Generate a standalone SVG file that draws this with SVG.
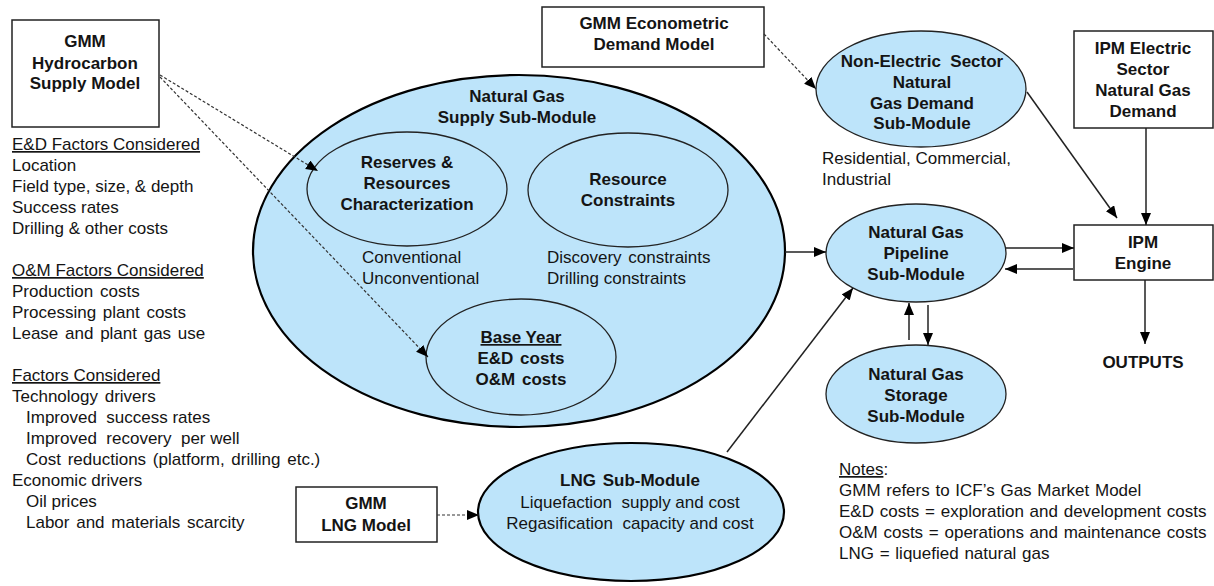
<svg xmlns="http://www.w3.org/2000/svg" width="1214" height="586" viewBox="0 0 1214 586">
<style>
text{font-family:"Liberation Sans",Arial,sans-serif;font-size:17px;fill:#141414}
.b{font-weight:bold}
.c{text-anchor:middle}
.u{text-decoration:underline}
.w{word-spacing:2px}
.n{word-spacing:1px}
.box{fill:#fff;stroke:#222;stroke-width:1.5}
.ell{fill:#bde4fa;stroke:#222;stroke-width:1.3}
.big{fill:#bde4fa;stroke:#000;stroke-width:2.2}
.in{fill:none;stroke:#222;stroke-width:1.3}
.ln{fill:none;stroke:#222;stroke-width:1.5}
.ds{fill:none;stroke:#333;stroke-width:1.2;stroke-dasharray:3 2}
</style>
<defs>
<marker id="ah" markerUnits="userSpaceOnUse" markerWidth="13" markerHeight="11" refX="12" refY="5" orient="auto">
<path d="M0,0 L12,5 L0,10 z" fill="#000"/>
</marker>
</defs>
<rect width="1214" height="586" fill="#fff"/>

<g id="hydrocarbon-model">
<rect class="box" x="12" y="20" width="147" height="107"/>
<text class="b c" x="85" y="47">GMM</text>
<text class="b c" x="85" y="69">Hydrocarbon</text>
<text class="b c" x="85" y="89">Supply Model</text>
</g>

<g id="factors-text">
<text class="u" x="12" y="150">E&amp;D Factors Considered</text>
<text x="12" y="171">Location</text>
<text x="12" y="192">Field type, size, &amp; depth</text>
<text x="12" y="213">Success rates</text>
<text x="12" y="234">Drilling &amp; other costs</text>
<text class="u" x="12" y="276">O&amp;M Factors Considered</text>
<text class="w" x="12" y="297">Production costs</text>
<text class="w" x="12" y="318">Processing plant costs</text>
<text class="w" x="12" y="339">Lease and plant gas use</text>
<text class="u" x="12" y="381">Factors Considered</text>
<text class="w" x="12" y="402">Technology drivers</text>
<text x="26" y="423">Improved&#160; success rates</text>
<text x="26" y="444">Improved&#160; recovery&#160; per well</text>
<text class="w" x="26" y="465">Cost reductions (platform, drilling etc.)</text>
<text x="12" y="486">Economic drivers</text>
<text x="26" y="507">Oil prices</text>
<text class="w" x="26" y="528">Labor and materials scarcity</text>
</g>

<g id="supply-submodule">
<ellipse class="big" cx="519" cy="251" rx="266" ry="176"/>
<text class="b c" x="517" y="102">Natural Gas</text>
<text class="b c" x="517" y="123">Supply Sub-Module</text>
</g>

<g id="reserves">
<ellipse class="in" cx="407" cy="189" rx="100" ry="57"/>
<text class="b c" x="407" y="168">Reserves &amp;</text>
<text class="b c" x="407" y="189">Resources</text>
<text class="b c" x="407" y="210">Characterization</text>
<text x="362" y="263">Conventional</text>
<text x="362" y="284">Unconventional</text>
</g>

<g id="resource-constraints">
<ellipse class="in" cx="628" cy="190" rx="100" ry="57"/>
<text class="b c" x="628" y="185">Resource</text>
<text class="b c" x="628" y="206">Constraints</text>
<text class="w" x="547" y="263">Discovery constraints</text>
<text x="547" y="284">Drilling constraints</text>
</g>

<g id="base-year">
<ellipse class="in" cx="521" cy="357" rx="95" ry="58"/>
<text class="b c u" x="521" y="343">Base Year</text>
<text class="b c w" x="521" y="364">E&amp;D costs</text>
<text class="b c w" x="521" y="385">O&amp;M costs</text>
</g>

<g id="econometric-model">
<rect class="box" x="542" y="7" width="222" height="60"/>
<text class="b c" x="654" y="29">GMM Econometric</text>
<text class="b c" x="654" y="50">Demand Model</text>
</g>

<g id="non-electric">
<ellipse class="ell" cx="921" cy="89" rx="105" ry="58"/>
<text class="b c" x="922" y="67">Non-Electric&#160; Sector</text>
<text class="b c" x="922" y="88">Natural</text>
<text class="b c" x="922" y="109">Gas Demand</text>
<text class="b c" x="922" y="129">Sub-Module</text>
<text x="822" y="164">Residential, Commercial,</text>
<text x="822" y="185">Industrial</text>
</g>

<g id="ipm-electric">
<rect class="box" x="1074" y="31" width="139" height="97"/>
<text class="b c" x="1143" y="54">IPM Electric</text>
<text class="b c" x="1143" y="75">Sector</text>
<text class="b c" x="1143" y="96">Natural Gas</text>
<text class="b c" x="1143" y="117">Demand</text>
</g>

<g id="pipeline">
<ellipse class="ell" cx="916" cy="253" rx="90" ry="49"/>
<text class="b c" x="916" y="238">Natural Gas</text>
<text class="b c" x="916" y="259">Pipeline</text>
<text class="b c" x="916" y="280">Sub-Module</text>
</g>

<g id="ipm-engine">
<rect class="box" x="1074" y="225" width="139" height="55"/>
<text class="b c" x="1143" y="248">IPM</text>
<text class="b c" x="1143" y="269">Engine</text>
</g>

<g id="outputs">
<text class="b c" x="1143" y="368">OUTPUTS</text>
</g>

<g id="storage">
<ellipse class="ell" cx="916" cy="394" rx="90" ry="49"/>
<text class="b c" x="916" y="380">Natural Gas</text>
<text class="b c" x="916" y="401">Storage</text>
<text class="b c" x="916" y="422">Sub-Module</text>
</g>

<g id="lng-model">
<rect class="box" x="296" y="487" width="141" height="55"/>
<text class="b c" x="366" y="509">GMM</text>
<text class="b c" x="366" y="531">LNG Model</text>
</g>

<g id="lng-submodule">
<ellipse class="big" cx="631" cy="512" rx="153" ry="69"/>
<text class="b c w" x="630" y="486">LNG Sub-Module</text>
<text class="c" x="630" y="508">Liquefaction&#160; supply and cost</text>
<text class="c" x="630" y="529">Regasification&#160; capacity and cost</text>
</g>

<g id="notes">
<text x="839" y="475"><tspan class="u">Notes</tspan>:</text>
<text class="n" x="839" y="496">GMM refers to ICF’s Gas Market Model</text>
<text class="n" x="839" y="517">E&amp;D costs = exploration and development costs</text>
<text class="n" x="839" y="538">O&amp;M costs = operations and maintenance costs</text>
<text class="n" x="839" y="559">LNG = liquefied natural gas</text>
</g>

<g id="connectors">
<path class="ds" d="M160,75 L318,171" marker-end="url(#ah)"/>
<path class="ds" d="M160,77 L428,357" marker-end="url(#ah)"/>
<path class="ds" d="M764,34 L816,89" marker-end="url(#ah)"/>
<path class="ds" d="M437,515 L479,515" marker-end="url(#ah)"/>
<path class="ln" d="M785,252 L826,252" marker-end="url(#ah)"/>
<path class="ln" d="M727,452 L853,288" marker-end="url(#ah)"/>
<path class="ln" d="M1006,248 L1074,248" marker-end="url(#ah)"/>
<path class="ln" d="M1073,269 L1005,269" marker-end="url(#ah)"/>
<path class="ln" d="M909,340 L909,303" marker-end="url(#ah)"/>
<path class="ln" d="M928,305 L928,345" marker-end="url(#ah)"/>
<path class="ln" d="M1027,92 L1117,218" marker-end="url(#ah)"/>
<path class="ln" d="M1146,128 L1146,225" marker-end="url(#ah)"/>
<path class="ln" d="M1145,280 L1145,344" marker-end="url(#ah)"/>
</g>
</svg>
